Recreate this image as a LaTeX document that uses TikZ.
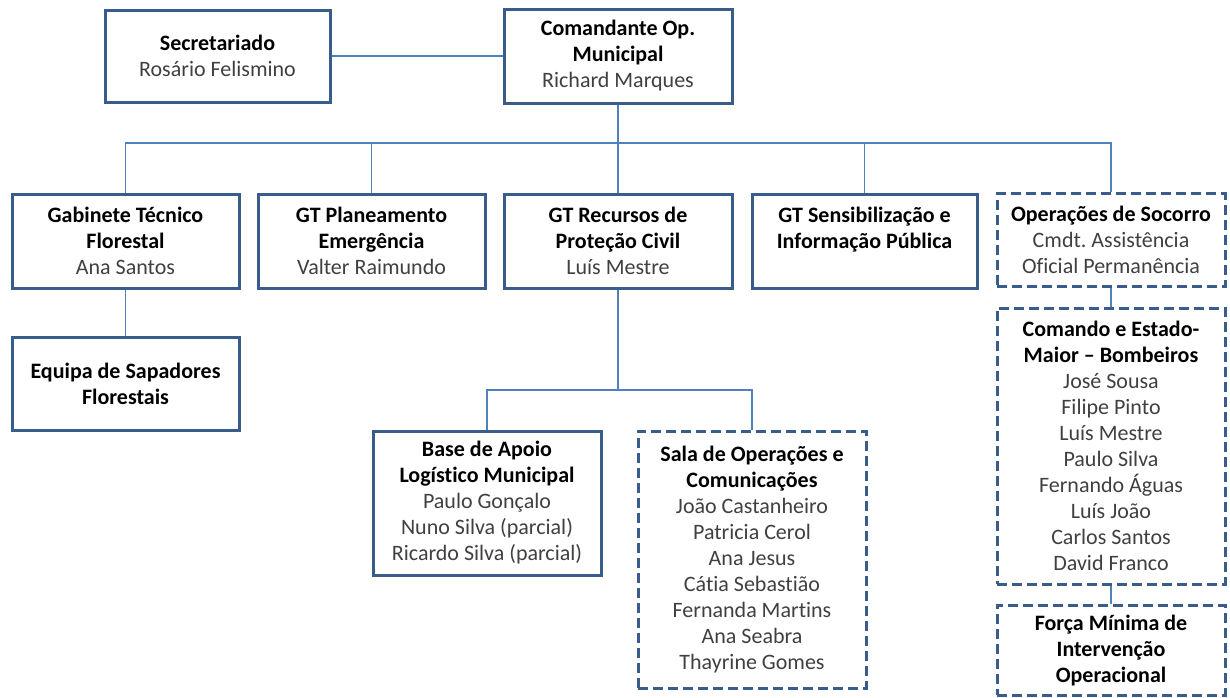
\documentclass[tikz,border=0pt]{standalone}
\usepackage{fontspec}
\setmainfont{Carlito}[Ligatures=NoCommon]
\usepackage{tikz}
\frenchspacing
\definecolor{box blue}{RGB}{56,93,138}
\definecolor{line blue}{RGB}{79,129,189}
\definecolor{name gray}{RGB}{64,64,64}
\newcommand{\who}[1]{\textcolor{name gray}{#1}}
\tikzset{
	orgbox/.style={draw=box blue, line width=1.5pt, fill=white, inner sep=0pt,
		align=center, font=\fontsize{11}{13}\selectfont},
	dashbox/.style={orgbox, dash pattern=on 5pt off 2.5pt},
	link/.style={draw=line blue, line width=0.6pt}
}

\begin{document}
\begin{tikzpicture}[x=0.5pt, y=-0.5pt]
		\useasboundingbox (0,0) rectangle (1230,697);
		% top row
		\node[orgbox, minimum width=112.5pt, minimum height=46pt] (sec) at (217.5,56)
			{\textbf{Secretariado}\\\who{Rosário Felismino}};
		\node[orgbox, minimum width=114pt, minimum height=47pt] (cmd) at (618,56)
			{\textbf{Comandante Op.}\\\textbf{Municipal}\\\who{Richard Marques}};
		% working groups
		\node[orgbox, minimum width=113.5pt, minimum height=47pt] (gtf) at (125.5,241)
			{\textbf{Gabinete Técnico}\\\textbf{Florestal}\\\who{Ana Santos}};
		\node[orgbox, minimum width=113.5pt, minimum height=47pt] (gtp) at (371.5,241)
			{\textbf{GT Planeamento}\\\textbf{Emergência}\\\who{Valter Raimundo}};
		\node[orgbox, minimum width=114pt, minimum height=47pt] (gtr) at (618,241)
			{\textbf{GT Recursos de}\\\textbf{Proteção Civil}\\\who{Luís Mestre}};
		\node[orgbox, minimum width=112.5pt, minimum height=47pt] (gts) at (864.5,241)
			{\textbf{GT Sensibilização e}\\\textbf{Informação Pública}\\\mbox{}};
		\node[dashbox, minimum width=114pt, minimum height=46.5pt] (ops) at (1111,240)
			{\textbf{Operações de Socorro}\\\who{Cmdt. Assistência}\\\who{Oficial Permanência}};
		% lower levels
		\node[orgbox, minimum width=113.5pt, minimum height=46.5pt] (esf) at (125.5,383.5)
			{\textbf{Equipa de Sapadores}\\\textbf{Florestais}};
		\node[orgbox, minimum width=114pt, minimum height=72pt] (bal) at (487,503)
			{\textbf{Base de Apoio}\\\textbf{Logístico Municipal}\\\who{Paulo Gonçalo}\\
			\who{Nuno Silva (parcial)}\\\who{Ricardo Silva (parcial)}};
		\node[dashbox, minimum width=114pt, minimum height=128.5pt] (sop) at (752,559.5)
			{\textbf{Sala de Operações e}\\\textbf{Comunicações}\\\who{João Castanheiro}\\
			\who{Patricia Cerol}\\\who{Ana Jesus}\\\who{Cátia Sebastião}\\
			\who{Fernanda Martins}\\\who{Ana Seabra}\\\who{Thayrine Gomes}};
		\node[dashbox, minimum width=114pt, minimum height=138pt] (cem) at (1111,446)
			{\textbf{Comando e Estado-}\\\textbf{Maior – Bombeiros}\\\who{José Sousa}\\
			\who{Filipe Pinto}\\\who{Luís Mestre}\\\who{Paulo Silva}\\\who{Fernando Águas}\\
			\who{Luís João}\\\who{Carlos Santos}\\\who{David Franco}};
		\node[dashbox, minimum width=114pt, minimum height=45pt] (fmi) at (1111,650)
			{\textbf{Força Mínima de}\\\textbf{Intervenção}\\\textbf{Operacional}};
		% connectors
		\coordinate (bus) at (0,143);
		\coordinate (subbus) at (0,390);
		\draw[link] (sec) -- (cmd);
		\draw[link] (cmd.south) -- (cmd.south |- bus);
		\draw[link] (gtf.north) -- (gtf.north |- bus) -- (ops.north |- bus) -- (ops.north);
		\foreach \n in {gtp,gtr,gts}
			\draw[link] (\n.north) -- (\n.north |- bus);
		\draw[link] (gtf) -- (esf);
		\draw[link] (gtr.south) -- (gtr.south |- subbus);
		\draw[link] (bal.north) -- (bal.north |- subbus) -- (sop.north |- subbus) -- (sop.north);
		\draw[link] (ops) -- (cem);
		\draw[link] (cem) -- (fmi);
	\end{tikzpicture}
\end{document}
